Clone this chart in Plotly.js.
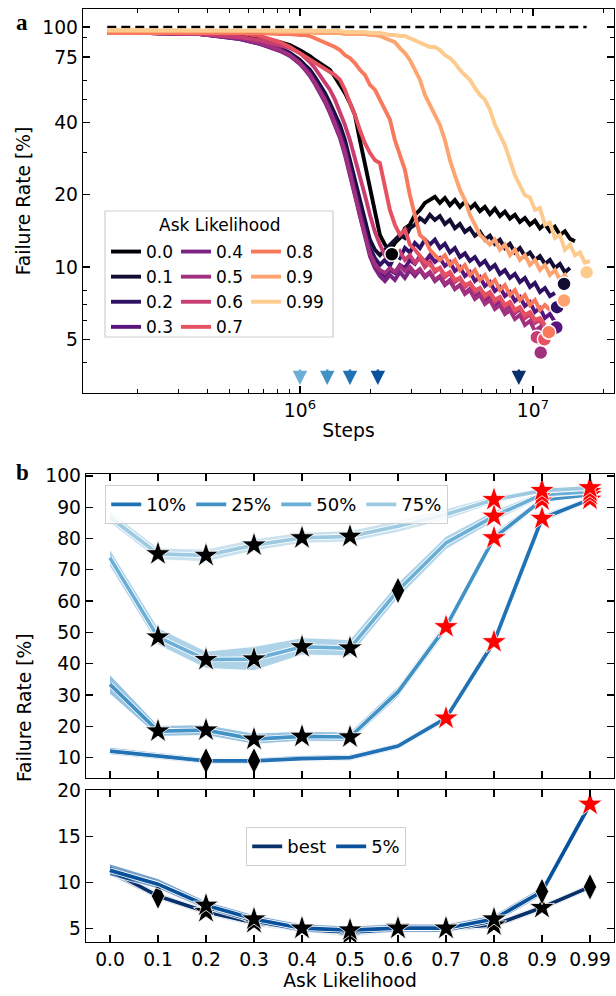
<!DOCTYPE html>
<html><head><meta charset="utf-8">
<script src="https://cdn.plot.ly/plotly-3.0.1.min.js"></script>
<style>html,body{margin:0;padding:0;background:#fff}#chart{width:616px;height:996px}</style>
</head><body><div id="chart"></div>
<script>
// ---------- DATA ----------
const askLabels = ['0.0','0.1','0.2','0.3','0.4','0.5','0.6','0.7','0.8','0.9','0.99'];

// panel a: training steps (millions) shared sampling grid
const gridStepsM = [0.149,0.227,0.372,0.553,0.673,0.821,0.906,1.000,1.051,1.104,1.160,1.218,1.280,1.345,1.413,1.485,1.560,1.639,1.722,1.809,1.901,1.997,2.098,2.204,2.316,2.433,2.556,2.686,2.822,2.965,3.115,3.273,3.439,3.613,3.796,3.988,4.190,4.402,4.625,4.860,5.106,5.364,5.636,5.922,6.222,6.537,6.868,7.216,7.581,7.966,8.369,8.793,9.239,9.707,10.20,10.72,11.26,11.83,12.43,13.06,13.72,14.42,15.15,15.91,16.72,17.57];

// panel a: failure rate [%] along the grid, one array per ask likelihood
const fail00 = [95.3,95.3,94.4,91.7,89.9,86.5,84.0,80.1,77.9,75.7,72.9,70.8,68.1,66.3,61.9,57.4,53.1,48.2,43.0,33.8,26.6,21.0,16.5,13.6,12.4,11.6,12.6,13.2,14.5,15.0,16.5,17.3,18.5,19.0,19.6,18.5,19.4,18.1,19.0,17.8,18.7,17.5,18.3,17.1,17.8,16.6,17.5,16.3,17.0,15.9,16.5,15.4,16.0,15.0,15.6,14.5,15.1,14.1,14.7,13.6,14.1,13.1,12.8];
const fail01 = [94.4,94.4,93.5,89.9,86.5,81.7,77.9,72.9,69.4,66.3,61.9,57.4,53.1,48.2,43.8,39.1,33.8,27.9,23.1,19.0,15.7,13.0,11.8,11.2,11.8,12.4,13.0,13.6,13.2,14.5,15.0,16.0,15.4,16.5,15.7,16.3,15.1,15.7,14.5,15.1,14.0,14.5,13.5,14.0,13.0,13.5,12.5,13.0,12.0,12.5,11.5,12.0,11.1,11.5,10.7,11.1,10.3,10.7,9.9,10.3,9.5,9.9];
const fail02 = [94.4,94.4,93.5,89.9,85.8,80.9,77.2,71.5,68.1,64.9,60.3,55.7,51.1,46.4,41.8,37.2,31.9,26.4,21.3,17.6,14.5,12.0,10.9,10.2,10.7,10.1,11.2,10.9,12.0,11.5,12.6,12.0,13.0,12.4,13.0,12.0,12.5,11.5,12.0,11.0,11.4,10.6,11.0,10.2,10.6,9.8,10.2,9.35,9.7,9.0,9.35,8.66,9.0,8.25,8.58,7.87,8.17,7.57,7.79];
const fail03 = [94.4,94.4,93.5,89.1,85.0,80.1,76.4,70.8,67.4,63.7,58.9,54.8,50.1,45.3,40.6,35.8,30.8,25.4,20.5,16.8,13.9,11.4,10.2,9.54,9.17,9.72,9.44,10.2,9.9,10.7,10.3,11.1,10.5,11.2,10.5,10.9,10.1,10.5,9.62,10.0,9.17,9.54,8.74,9.08,8.33,8.66,7.94,8.25,7.57,7.87,7.22,7.50,6.88,7.15,6.49,6.75,6.13,6.37,5.90];
const fail04 = [94.4,94.4,93.5,89.1,85.0,79.4,75.7,70.1,66.3,62.5,57.9,53.6,48.7,43.8,39.1,34.5,29.3,24.1,19.6,16.0,13.2,11.1,9.9,9.17,8.74,9.26,8.83,9.54,9.0,9.72,9.17,9.72,9.08,9.44,8.74,9.08,8.41,8.74,8.10,8.41,7.79,8.10,7.50,7.79,7.22,7.50,6.94,7.22,6.68,6.94,6.43,6.68,6.13,6.37,5.85,6.02,5.47,5.31];
const fail05 = [94.4,94.4,93.5,89.9,85.8,80.1,76.4,70.8,66.8,63.1,58.5,54.1,49.8,44.7,39.8,35.1,30.1,24.9,20.1,16.3,13.5,11.4,10.3,9.72,9.44,9.9,9.54,10.1,9.62,10.0,9.44,9.81,9.17,9.54,8.83,9.17,8.50,8.83,8.10,8.41,7.72,8.02,7.36,7.64,7.01,7.29,6.68,6.94,6.37,6.62,6.07,6.31,5.73,5.96,5.41,5.62,5.06,4.97];
const fail06 = [94.4,94.4,93.5,90.8,88.1,84.0,81.7,77.9,74.9,71.5,67.4,63.1,58.9,54.8,49.8,44.3,39.1,33.8,28.5,24.1,19.9,16.5,14.0,12.4,11.2,11.8,10.9,11.6,10.7,11.2,10.4,10.9,10.0,10.5,9.54,9.91,9.08,9.44,8.66,9.0,8.25,8.58,7.87,8.17,7.50,7.80,7.15,7.43,6.81,7.08,6.49,6.75,6.13,6.37,5.85,6.02,5.57];
const fail07 = [94.4,94.4,94.4,94.4,91.7,86.5,82.5,77.9,74.9,72.9,70.8,68.8,67.4,65.0,63.1,60.3,54.8,48.3,43.0,37.2,32.8,29.9,27.9,27.1,21.9,17.3,15.0,13.6,14.3,12.4,11.8,11.2,10.5,10.2,9.72,9.91,9.26,9.54,8.83,9.0,8.41,8.58,8.02,8.17,7.64,7.87,7.29,7.50,6.94,7.15,6.62,6.81,6.31,6.49,6.02,6.13,5.73];
const fail08 = [94.4,94.4,94.4,94.4,94.4,93.5,93.5,92.6,92.6,91.7,89.9,88.1,86.5,84.0,82.5,80.1,76.4,74.2,70.8,66.3,63.1,57.4,54.8,49.8,45.3,41.2,33.8,29.3,25.4,19.9,16.5,13.6,13.0,11.8,11.2,10.7,11.2,10.2,10.7,9.72,10.2,9.26,9.72,8.83,9.26,8.41,8.83,8.02,8.41,7.64,8.02,7.29,7.64,6.94,7.29,6.62,6.94,6.62];
const fail09 = [96.3,96.3,96.3,96.3,96.3,95.3,95.3,95.3,95.3,95.3,94.4,94.4,94.4,94.4,94.4,94.4,93.5,93.5,93.5,93.5,93.5,92.6,92.6,91.7,89.9,88.1,86.5,81.7,77.9,72.9,66.3,60.3,52.1,47.3,43.0,39.1,33.8,27.9,24.1,21.0,19.0,16.5,15.0,13.6,13.0,12.4,13.0,11.8,12.4,11.2,11.8,10.7,11.2,10.2,10.7,9.72,10.2,9.26,9.72,8.83,9.26,8.41];
const fail099 = [97.2,97.2,97.2,97.2,97.2,97.2,97.2,96.3,96.3,96.3,96.3,96.3,96.3,96.3,96.3,96.3,95.3,95.3,95.3,95.3,95.3,94.4,94.4,94.4,93.5,92.6,92.6,91.7,91.7,89.9,88.1,86.5,84.0,82.5,82.5,80.1,76.4,74.2,70.8,66.3,63.1,60.3,55.7,52.1,49.8,45.3,39.1,35.5,32.2,27.9,24.1,21.9,19.9,19.5,17.3,17.6,15.0,15.3,13.2,13.6,11.8,12.4,11.2,11.5,10.4,10.6];

// best checkpoint per ask likelihood (steps in millions, failure rate %)
const bestStepM = [2.48,13.6,12.7,12.6,10.7,10.8,10.4,11.2,11.7,13.6,17.0];
const bestRate  = [11.3,8.5,6.8,5.6,5.0,4.4,5.1,5.0,5.35,7.25,9.5];

// reference line (100 %) and arrow positions (steps, millions)
const refStepsM = [0.149,17.0];
const refRate = [100,100];
const arrowStepsM = [1.0,1.31,1.64,2.16,8.7];
const arrowLevel = 3.22;

// panel b (top): percentile failure rates with bands
const q10 = [12.1,10.6,9.0,9.0,9.7,10.0,13.7,22.6,47.0,86.4,92.5];
const q10Lo = [11.0,9.6,8.0,8.0,8.7,9.0,12.7,21.5,45.5,85.2,91.6];
const q10Hi = [13.3,11.6,10.0,10.0,10.7,11.0,14.7,23.7,48.5,87.6,93.4];
const q25 = [33.4,18.5,18.8,15.9,16.8,16.6,31.0,51.8,80.2,92.3,94.0];
const q25Lo = [30.3,16.8,17.1,14.3,15.3,15.1,29.3,50.0,78.6,91.3,93.2];
const q25Hi = [36.5,20.3,20.5,17.8,18.4,18.2,32.7,53.6,81.8,93.3,94.8];
const q50 = [73.8,48.5,41.3,41.5,45.4,45.0,63.4,78.6,87.1,94.0,95.0];
const q50Lo = [71.0,46.0,38.5,37.8,42.8,42.5,61.0,76.5,85.5,93.0,94.2];
const q50Hi = [76.5,51.5,44.0,45.5,48.3,47.7,65.8,80.7,88.8,95.0,95.8];
const q75 = [86.8,75.1,74.6,77.9,80.2,80.7,83.9,87.7,92.4,95.3,96.2];
const q75Lo = [85.0,73.2,72.6,76.0,78.5,78.9,82.0,86.0,91.2,94.5,95.4];
const q75Hi = [88.8,77.0,76.6,79.8,82.0,82.5,85.8,89.5,93.6,96.1,97.0];
// marker codes: s = black star, d = black diamond, r = red star, '' = none
const m10 = ['','','d','d','','','','r','r','r','r'];
const m25 = ['','s','s','s','s','s','','r','r','r','r'];
const m50 = ['','s','s','s','s','s','d','','r','r','r'];
const m75 = ['','s','s','s','s','s','','','r','r','r'];

// panel b (bottom)
const bestLo = [10.8,8.15,6.45,5.25,4.65,4.05,4.75,4.65,5.0,6.9,9.15];
const bestHi = [11.8,8.85,7.15,5.95,5.35,4.75,5.45,5.35,5.7,7.6,9.85];
const q05 = [11.3,9.8,7.5,6.0,5.0,4.8,5.0,5.0,6.0,9.0,18.5];
const q05Lo = [10.7,9.3,7.05,5.55,4.55,4.35,4.55,4.55,5.55,8.55,18.0];
const q05Hi = [12.0,10.4,7.95,6.45,5.45,5.25,5.45,5.45,6.45,9.45,19.0];
const mBest = ['','d','s','s','s','s','s','s','s','s','d'];
const m05 = ['','','s','s','s','s','s','s','s','d','r'];

// ---------- STYLE ----------
const curveColors = ['#000004','#120d31','#2f1163','#59157e','#7b2382','#a1307e','#c83e73','#e75263','#f9795d','#fea471','#fecb8f'];
const arrowColors = ['#6baed6','#4292c6','#2171b5','#08519c','#08306b'];
const FONT = 'DejaVu Sans';
const FS = 18.7;

const W = 616, H = 996;
const M = {l:83, r:2, t:9, b:54};
const pw = W - M.l - M.r, ph = H - M.t - M.b;
const px2x = p => (p - M.l) / pw;
const px2y = p => (H - M.b - p) / ph;

const traces = [];
// panel a
traces.push({x: refStepsM.map(s=>s*1e6), y: refRate, mode:'lines', line:{color:'#000', width:2.4, dash:'9px,5px'}, showlegend:false, hoverinfo:'skip', xaxis:'x', yaxis:'y'});
const failCurves = [fail00,fail01,fail02,fail03,fail04,fail05,fail06,fail07,fail08,fail09,fail099];
failCurves.forEach((vals,i)=>{
  traces.push({x: gridStepsM.slice(0, vals.length).map(s=>s*1e6), y: vals, mode:'lines',
    line:{color: curveColors[i], width:3.9}, name: askLabels[i],
    legend: i<4 ? 'legend' : (i<8 ? 'legend2' : 'legend3'),
    xaxis:'x', yaxis:'y', hoverinfo:'skip'});
});
traces.push({x: bestStepM.map(s=>s*1e6), y: bestRate, mode:'markers',
  marker:{size:14, color: curveColors, opacity:1, line:{color:'#fff', width:1.5}}, showlegend:false, xaxis:'x', yaxis:'y', hoverinfo:'skip'});

// panel b
function addSeries(s, xa, ya, legendId){
  traces.push({x: askLabels.concat(askLabels.slice().reverse()), y: s.hi.concat(s.lo.slice().reverse()),
    mode:'lines', fill:'toself', fillcolor:'rgba('+s.rgb+',0.55)', line:{color:'rgba(255,255,255,0.95)', width:0.9},
    showlegend:false, xaxis:xa, yaxis:ya, hoverinfo:'skip'});
  traces.push({x: askLabels, y: s.v, mode:'lines', line:{color:'#fff', width:5.4}, showlegend:false, xaxis:xa, yaxis:ya, hoverinfo:'skip'});
  traces.push({x: askLabels, y: s.v, mode:'lines', line:{color:s.color, width:3.7}, name:s.name, legend:legendId, xaxis:xa, yaxis:ya, hoverinfo:'skip'});
  const idx = s.m.map((c,i)=>c ? i : -1).filter(i=>i>=0);
  traces.push({x: idx.map(i=>askLabels[i]), y: idx.map(i=>s.v[i]), mode:'markers', opacity:1,
    marker:{symbol: idx.map(i=>s.m[i]==='d' ? 'diamond-tall' : 'star'), opacity:1,
            color: idx.map(i=>s.m[i]==='r' ? '#ff0000' : '#000000'),
            size: 19, line:{color:'#ffffff', width:0.8}},
    showlegend:false, xaxis:xa, yaxis:ya, hoverinfo:'skip'});
}
[
  {name:'10%', v:q10, lo:q10Lo, hi:q10Hi, m:m10, color:'#2171b5', rgb:'33,113,181'},
  {name:'25%', v:q25, lo:q25Lo, hi:q25Hi, m:m25, color:'#4292c6', rgb:'66,146,198'},
  {name:'50%', v:q50, lo:q50Lo, hi:q50Hi, m:m50, color:'#6baed6', rgb:'107,174,214'},
  {name:'75%', v:q75, lo:q75Lo, hi:q75Hi, m:m75, color:'#9ecae1', rgb:'158,202,225'}
].forEach(s=>addSeries(s,'x2','y2','legend4'));
[
  {name:'best', v:bestRate, lo:bestLo, hi:bestHi, m:mBest, color:'#08306b', rgb:'8,48,107'},
  {name:'5%', v:q05, lo:q05Lo, hi:q05Hi, m:m05, color:'#08519c', rgb:'8,81,156'}
].forEach(s=>addSeries(s,'x3','y3','legend5'));

const axBase = {showline:true, linecolor:'#000', linewidth:1.3, mirror:'allticks', ticks:'inside', ticklen:7,
  tickwidth:1.3, tickcolor:'#000', showgrid:false, zeroline:false, fixedrange:true,
  tickfont:{family:FONT, size:FS, color:'#000'}};

const minorX = [2e5,3e5,4e5,5e5,6e5,7e5,8e5,9e5,2e6,3e6,4e6,5e6,6e6,7e6,8e6,9e6,2e7];
const layout = {
  width:W, height:H, margin:M, paper_bgcolor:'#fff', plot_bgcolor:'#fff',
  font:{family:FONT, size:FS, color:'#000'},
  xaxis: Object.assign({}, axBase, {type:'log', range:[5.069,7.348], domain:[0,1], anchor:'y',
    tickmode:'array', tickvals:[1e6,1e7], ticktext:['10<sup>6</sup>','10<sup>7</sup>'],
    minor:{tickmode:'array', tickvals:minorX, ticks:'inside', ticklen:4, tickwidth:1, tickcolor:'#000'},
    title:{text:'Steps', font:{family:FONT, size:FS}, standoff:4}}),
  yaxis: Object.assign({}, axBase, {type:'log', range:[0.475,2.075], domain:[px2y(393),1], anchor:'x',
    tickmode:'array', tickvals:[5,10,20,40,75,100], ticktext:['5','10','20','40','75','100'],
    minor:{tickmode:'array', tickvals:[4,6,7,8,30,50,60,90], ticks:'inside', ticklen:4, tickwidth:1, tickcolor:'#000'},
    title:{text:'Failure Rate [%]', font:{family:FONT, size:FS}, standoff:6}}),
  xaxis2: Object.assign({}, axBase, {type:'category', categoryorder:'array', categoryarray:askLabels,
    range:[-0.5,10.5], domain:[px2x(86),1], anchor:'y2', showticklabels:false}),
  yaxis2: Object.assign({}, axBase, {range:[3.5,100.6], domain:[px2y(778),px2y(474)], anchor:'x2',
    tickmode:'array', tickvals:[10,20,30,40,50,60,70,80,90,100]}),
  xaxis3: Object.assign({}, axBase, {type:'category', categoryorder:'array', categoryarray:askLabels,
    range:[-0.5,10.5], domain:[px2x(86),1], anchor:'y3',
    title:{text:'Ask Likelihood', font:{family:FONT, size:FS}, standoff:4}}),
  yaxis3: Object.assign({}, axBase, {range:[3.5,20.05], domain:[0,px2y(790)], anchor:'x3',
    tickmode:'array', tickvals:[5,10,15,20]}),
  legend: {x:px2x(106), y:px2y(234), xanchor:'left', yanchor:'top', bgcolor:'rgba(0,0,0,0)', borderwidth:0, font:{family:FONT,size:17}, tracegroupgap:0},
  legend2:{x:px2x(176), y:px2y(234), xanchor:'left', yanchor:'top', bgcolor:'rgba(0,0,0,0)', borderwidth:0, font:{family:FONT,size:17}, tracegroupgap:0},
  legend3:{x:px2x(246), y:px2y(234), xanchor:'left', yanchor:'top', bgcolor:'rgba(0,0,0,0)', borderwidth:0, font:{family:FONT,size:17}, tracegroupgap:0},
  legend4:{orientation:'h', x:px2x(105), y:px2y(485), xanchor:'left', yanchor:'top', bgcolor:'rgba(255,255,255,0.8)', bordercolor:'#cfcfcf', borderwidth:1.2, font:{family:FONT,size:18}},
  legend5:{orientation:'h', x:px2x(326), y:px2y(827), xanchor:'center', yanchor:'top', bgcolor:'rgba(255,255,255,0.8)', bordercolor:'#cfcfcf', borderwidth:1.2, font:{family:FONT,size:18}},
  shapes:[
    {type:'rect', xref:'paper', yref:'paper', x0:px2x(105), x1:px2x(333), y0:px2y(337), y1:px2y(211),
     fillcolor:'rgba(255,255,255,0.8)', line:{color:'#cfcfcf', width:1.2}, layer:'above'}
  ],
  annotations: [
    {text:'<b>a</b>', xref:'paper', yref:'paper', x:px2x(22), y:px2y(22), showarrow:false, xanchor:'center', yanchor:'middle', font:{family:'Liberation Serif', size:23, color:'#000'}},
    {text:'<b>b</b>', xref:'paper', yref:'paper', x:px2x(22), y:px2y(472), showarrow:false, xanchor:'center', yanchor:'middle', font:{family:'Liberation Serif', size:23, color:'#000'}},
    {text:'Ask Likelihood', xref:'paper', yref:'paper', x:px2x(219), y:px2y(225), showarrow:false, xanchor:'center', yanchor:'middle', font:{family:FONT, size:17}},
    {text:'Failure Rate [%]', xref:'paper', yref:'paper', x:px2x(24), y:px2y(708), textangle:-90, showarrow:false, xanchor:'center', yanchor:'middle', font:{family:FONT, size:FS}}
  ].concat(arrowStepsM.map((s,i)=>({
    xref:'x', yref:'y', x:Math.log10(s*1e6), y:Math.log10(arrowLevel), ax:0, ay:-17, text:'',
    showarrow:true, arrowhead:2, arrowsize:1.2, arrowwidth:2.4, arrowcolor:arrowColors[i], standoff:0
  })))
};

Plotly.newPlot('chart', traces, layout, {displayModeBar:false, staticPlot:true});
</script></body></html>
